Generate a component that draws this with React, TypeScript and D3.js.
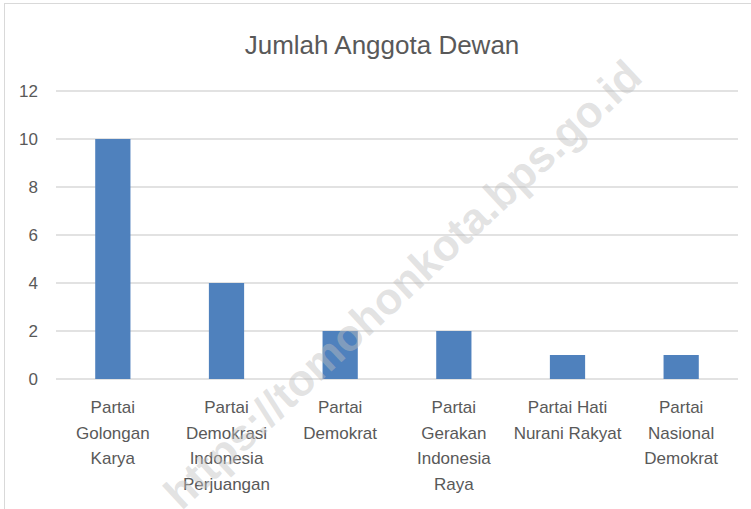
import React from "react";
import * as d3 from "d3";

const title = "Jumlah Anggota Dewan";
const categories = [
  ["Partai", "Golongan", "Karya"],
  ["Partai", "Demokrasi", "Indonesia", "Perjuangan"],
  ["Partai", "Demokrat"],
  ["Partai", "Gerakan", "Indonesia", "Raya"],
  ["Partai Hati", "Nurani Rakyat"],
  ["Partai", "Nasional", "Demokrat"],
];
const values = [10, 4, 2, 2, 1, 1];
const yTicks = [0, 2, 4, 6, 8, 10, 12];
const watermark = "https://tomohonkota.bps.go.id";

const W = 751;
const H = 509;
const FONT = "'Liberation Sans Narrow', 'Arial Narrow', sans-serif";

export default function App() {
  const x = d3
    .scaleBand<number>()
    .domain(values.map((_, i) => i))
    .range([56, 738])
    .paddingInner(0.69)
    .paddingOuter(0.345);
  const y = d3.scaleLinear().domain([0, 12]).range([379, 91]);

  return (
    <svg
      width={W}
      height={H}
      style={{ position: "absolute", left: 0, top: 0, background: "#fff" }}
    >
      <rect x={4.5} y={3.5} width={W + 10} height={H + 10} fill="#fff" stroke="#d9d9d9" strokeWidth={1} />
      <text
        x={382}
        y={54}
        textAnchor="middle"
        fontFamily={FONT}
        fontSize={26}
        fill="#595959"
      >
        {title}
      </text>
      {yTicks.map((t) => (
        <g key={t}>
          <line x1={56} x2={738} y1={y(t)} y2={y(t)} stroke="#d9d9d9" strokeWidth={1.3} />
          <text
            x={38}
            y={y(t) + 6}
            textAnchor="end"
            fontFamily={FONT}
            fontSize={17}
            fill="#595959"
          >
            {t}
          </text>
        </g>
      ))}
      {values.map((v, i) => (
        <rect
          key={i}
          x={x(i)}
          y={y(v)}
          width={x.bandwidth()}
          height={y(0) - y(v)}
          fill="#4f81bd"
        />
      ))}
      {categories.map((lines, i) => (
        <text
          key={i}
          textAnchor="middle"
          fontFamily={FONT}
          fontSize={17}
          fill="#595959"
        >
          {lines.map((l, j) => (
            <tspan key={j} x={(x(i) as number) + x.bandwidth() / 2} y={413 + j * 25.5}>
              {l}
            </tspan>
          ))}
        </text>
      ))}
      <text
        transform="translate(405,287) rotate(-43)"
        textAnchor="middle"
        dominantBaseline="middle"
        fontFamily="'Liberation Sans', Arial, sans-serif"
        fontWeight="bold"
        fontSize={44}
        fill="#bfbfbf"
        fillOpacity={0.45}
      >
        {watermark}
      </text>
    </svg>
  );
}
